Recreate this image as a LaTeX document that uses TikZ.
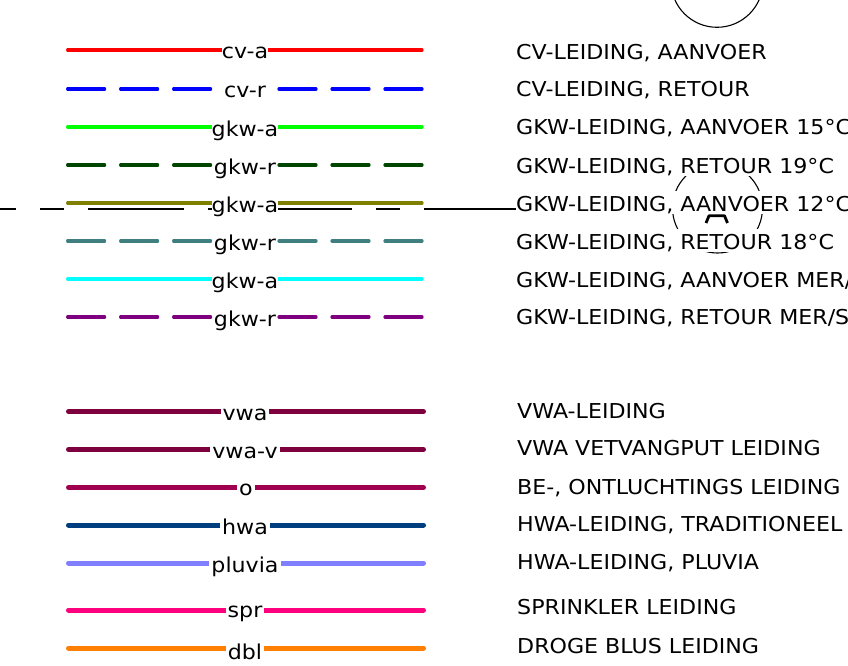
\documentclass[tikz,border=0pt]{standalone}
\usepackage{fontspec}
\setmainfont{DejaVu Sans}[FakeStretch=1.08]
\pgfdeclarelayer{bg}
\pgfsetlayers{bg,main}
\definecolor{cRed}{RGB}{255,0,0}
\definecolor{cBlue}{RGB}{0,0,255}
\definecolor{cGreen}{RGB}{0,255,0}
\definecolor{cDkGreen}{RGB}{0,70,0}
\definecolor{cOlive}{RGB}{127,127,0}
\definecolor{cTeal}{RGB}{63,127,127}
\definecolor{cCyan}{RGB}{0,255,255}
\definecolor{cPurple}{RGB}{127,0,127}
\definecolor{cVwa}{RGB}{127,0,63}
\definecolor{cO}{RGB}{160,0,80}
\definecolor{cHwa}{RGB}{0,63,127}
\definecolor{cPluvia}{RGB}{127,127,255}
\definecolor{cSpr}{RGB}{255,0,127}
\definecolor{cDbl}{RGB}{255,127,0}
\begin{document}
\begin{tikzpicture}[x=1pt,y=-1pt,
  every node/.style={font=\fontsize{20.5}{24}\selectfont, inner sep=0pt},
  desc/.style={anchor=base west, fill=white, text height=20.5pt, text depth=2.5pt},
  lab/.style={anchor=base, fill=white, inner xsep=0pt},
  labb/.style={anchor=base, fill=white, inner xsep=2pt},
  thinp/.style={line width=3.2pt, line cap=round},
  thickp/.style={line width=5pt, line cap=round},
  dashp/.style={thinp, dash pattern=on 37pt off 16pt},
  hair/.style={line width=1.1pt, black},
  ]
\useasboundingbox (0,0) rectangle (848,666);

% descriptions
\node[desc] (t1) at (516,59.3) {CV-LEIDING, AANVOER};
\node[desc] (t2) at (516,96.3) {CV-LEIDING, RETOUR};
\node[desc] (t3) at (516,134.7) {GKW-LEIDING, AANVOER 15°C};
\node[desc] (t4) at (516,173) {GKW-LEIDING, RETOUR 19°C};
\node[desc] (t5) at (516,211.5) {GKW-LEIDING, AANVOER 12°C};
\node[desc] (t6) at (516,249.5) {GKW-LEIDING, RETOUR 18°C};
\node[desc] (t7) at (516,287.3) {GKW-LEIDING, AANVOER MER/SER};
\node[desc] (t8) at (516,324.7) {GKW-LEIDING, RETOUR MER/SER};
\node[desc] (t9) at (517,418) {VWA-LEIDING};
\node[desc] (t10) at (517,455.7) {VWA VETVANGPUT LEIDING};
\node[desc] (t11) at (517,494) {BE-, ONTLUCHTINGS LEIDING};
\node[desc] (t12) at (517,531.3) {HWA-LEIDING, TRADITIONEEL};
\node[desc] (t13) at (517,569.7) {HWA-LEIDING, PLUVIA};
\node[desc] (t14) at (517,614.7) {SPRINKLER LEIDING};
\node[desc] (t15) at (517,653) {DROGE BLUS LEIDING};

% labels on the sample lines
\node[lab] (l1) at (245,59) {cv-a};
\node[lab] (l2) at (245,97.5) {cv-r};
\node[lab] (l3) at (245,136) {gkw-a};
\node[lab] (l4) at (245,174) {gkw-r};
\node[lab] (l5) at (245,212) {gkw-a};
\node[lab] (l6) at (245,250) {gkw-r};
\node[lab] (l7) at (245,288) {gkw-a};
\node[lab] (l8) at (245,326) {gkw-r};
\node[labb] (l9) at (245,420) {vwa};
\node[labb] (l10) at (245,458) {vwa-v};
\node[labb] (l11) at (246,495.5) {o};
\node[labb] (l12) at (245,534.5) {hwa};
\node[labb] (l13) at (245,572) {pluvia};
\node[labb] (l14) at (245,617) {spr};
\node[labb] (l15) at (245,659) {dbl};

% line end points
\coordinate (a1) at (67.6,50);   \coordinate (b1) at (422,50);
\coordinate (a2) at (67.6,89);   \coordinate (b2) at (422,89);
\coordinate (a3) at (67.6,127);  \coordinate (b3) at (422,127);
\coordinate (a4) at (67.6,165);  \coordinate (b4) at (422,165);
\coordinate (a5) at (67.6,203);  \coordinate (b5) at (422,203);
\coordinate (a6) at (67.6,241);  \coordinate (b6) at (422,241);
\coordinate (a7) at (67.6,279);  \coordinate (b7) at (422,279);
\coordinate (a8) at (67.6,317);  \coordinate (b8) at (422,317);
\coordinate (a9) at (68.5,411.5);  \coordinate (b9) at (423.5,411.5);
\coordinate (a10) at (68.5,449.5); \coordinate (b10) at (423.5,449.5);
\coordinate (a11) at (68.5,487.5); \coordinate (b11) at (423.5,487.5);
\coordinate (a12) at (68.5,525);   \coordinate (b12) at (423.5,525);
\coordinate (a13) at (68.5,563);   \coordinate (b13) at (423.5,563);
\coordinate (a14) at (68.5,610);   \coordinate (b14) at (423.5,610);
\coordinate (a15) at (68.5,648);   \coordinate (b15) at (423.5,648);
\coordinate (h0) at (0,209);

\begin{pgfonlayer}{bg}
  % section marks
  \draw[hair] (717,-18.7) circle[radius=46];
  \draw[hair] (717.5,208) circle[radius=45];
  \draw[line width=2.8pt, line join=round] (706,223) -- (709,215.8) -- (724.5,215.8) -- (727.5,223);
  % thin dash-dot line
  \draw[hair, dash pattern=on 96pt off 24pt on 24pt off 24pt, dash phase=80pt] (h0) -- (h0 -| t5.west);
  % group 1
  \draw[thinp, cRed] (a1) -- (a1 -| l1.west);  \draw[thinp, cRed] (b1) -- (b1 -| l1.east);
  \draw[dashp, cBlue] (a2) -- (a2 -| l2.west); \draw[dashp, cBlue] (b2) -- (b2 -| l2.east);
  \draw[thinp, cGreen] (a3) -- (a3 -| l3.west); \draw[thinp, cGreen] (b3) -- (b3 -| l3.east);
  \draw[dashp, cDkGreen] (a4) -- (a4 -| l4.west); \draw[dashp, cDkGreen] (b4) -- (b4 -| l4.east);
  \draw[thinp, cOlive] (a5) -- (a5 -| l5.west); \draw[thinp, cOlive] (b5) -- (b5 -| l5.east);
  \draw[dashp, cTeal] (a6) -- (a6 -| l6.west); \draw[dashp, cTeal] (b6) -- (b6 -| l6.east);
  \draw[thinp, cCyan] (a7) -- (a7 -| l7.west); \draw[thinp, cCyan] (b7) -- (b7 -| l7.east);
  \draw[dashp, cPurple] (a8) -- (a8 -| l8.west); \draw[dashp, cPurple] (b8) -- (b8 -| l8.east);
  % group 2
  \draw[thickp, cVwa] (a9) -- (a9 -| l9.west); \draw[thickp, cVwa] (b9) -- (b9 -| l9.east);
  \draw[thickp, cVwa] (a10) -- (a10 -| l10.west); \draw[thickp, cVwa] (b10) -- (b10 -| l10.east);
  \draw[thickp, cO] (a11) -- (a11 -| l11.west); \draw[thickp, cO] (b11) -- (b11 -| l11.east);
  \draw[thickp, cHwa] (a12) -- (a12 -| l12.west); \draw[thickp, cHwa] (b12) -- (b12 -| l12.east);
  \draw[thickp, cPluvia] (a13) -- (a13 -| l13.west); \draw[thickp, cPluvia] (b13) -- (b13 -| l13.east);
  \draw[thickp, cSpr] (a14) -- (a14 -| l14.west); \draw[thickp, cSpr] (b14) -- (b14 -| l14.east);
  \draw[thickp, cDbl] (a15) -- (a15 -| l15.west); \draw[thickp, cDbl] (b15) -- (b15 -| l15.east);
\end{pgfonlayer}
\end{tikzpicture}
\end{document}
